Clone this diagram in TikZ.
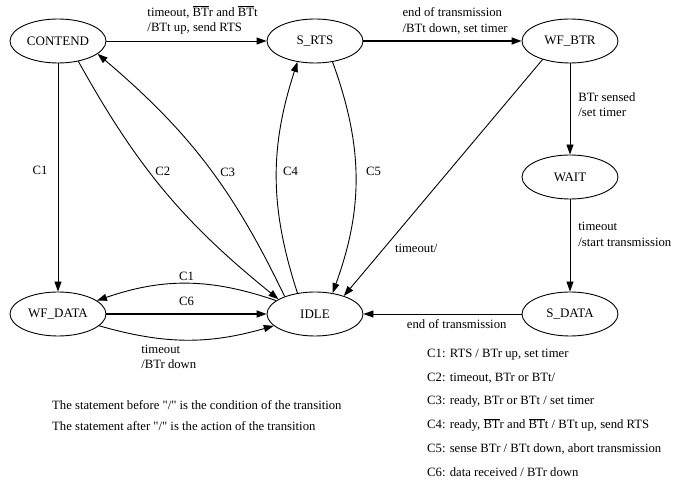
\documentclass[tikz,border=0pt]{standalone}
\usepackage{fontspec}
\setmainfont{Liberation Serif}
\usetikzlibrary{arrows.meta, positioning, shapes.geometric}
\tikzset{%
  state/.style={%
    ellipse,%
    draw=black,%
    line width=0.9pt,%
    minimum width=96pt,%
    minimum height=44pt,%
    inner sep=0pt,%
    font={\fontsize{13}{15}\selectfont},%
  },
  trans/.style={%
    color=black,%
    line width=0.9pt,%
    line join=round,%
  },
  arrow/.style={-{Triangle[length=10pt, width=7pt]}},
  annotate/.style={%
    font={\fontsize{12.7}{15.5}\selectfont},%
    align=left,%
    inner sep=2pt,%
  },
  legend/.style={%
    font={\fontsize{12.7}{14}\selectfont},%
    anchor=west,%
    inner sep=0pt,%
  },
}
\newcommand{\nBT}{$\overline{\mbox{BT}}$}

\begin{document}
\begin{tikzpicture}[x=1pt, y=1pt, on grid]

    \useasboundingbox (0,0) rectangle (673,485);

    \node [state] (CONTEND) at (58,444) {CONTEND};
    \node [state, right = 257pt of CONTEND] (S_RTS) {S\_RTS};
    \node [state, right = 255pt of S_RTS] (WF_BTR) {WF\_BTR};
    \node [state, below = 136pt of WF_BTR] (WAIT) {WAIT};
    \node [state, below = 137pt of WAIT] (S_DATA) {S\_DATA};
    \node [state, left = 255pt of S_DATA] (IDLE) {IDLE};
    \node [state, left = 257pt of IDLE] (WF_DATA) {WF\_DATA};

    % top row
    \draw [arrow, trans]
      (CONTEND.east) -- (S_RTS.west)
      node [annotate, pos=0.6, above=4pt] {timeout, \nBT r and \nBT t\\/BTt up, send RTS};
    \draw [arrow, trans, line width=1.4pt]
      (S_RTS.east) -- (WF_BTR.west)
      node [annotate, pos=0.58, above=4pt] {end of transmission\\/BTt down, set timer};

    % right column
    \draw [arrow, trans]
      (WF_BTR.south) -- (WAIT.north)
      node [annotate, pos=0.45, anchor=west, xshift=6pt] {BTr sensed\\/set timer};
    \draw [arrow, trans]
      (WAIT.south) -- (S_DATA.north)
      node [annotate, pos=0.38, anchor=west, xshift=6pt] {timeout\\/start transmission};
    \draw [arrow, trans]
      (S_DATA.west) -- (IDLE.east)
      node [annotate, pos=0.41, below=3pt] {end of transmission};
    \draw [arrow, trans]
      (WF_BTR.214) -- (IDLE.32)
      node [annotate, pos=0.8, anchor=west, xshift=9pt] {timeout/};

    % around S_RTS and IDLE
    \draw [arrow, trans]
      (S_RTS.-50) to [out=-70, in=70]
      node [annotate, pos=0.47, anchor=west, xshift=8pt] {C5}
      (IDLE.50);
    \draw [arrow, trans]
      (IDLE.130) to [out=108, in=-108]
      node [annotate, pos=0.53, anchor=west, xshift=4pt] {C4}
      (S_RTS.230);

    % around CONTEND
    \draw [arrow, trans]
      (CONTEND.south) -- (WF_DATA.north)
      node [annotate, pos=0.47, anchor=east, xshift=-8pt] {C1};
    \draw [arrow, trans]
      (CONTEND.-45) to [bend right=11]
      node [annotate, pos=0.41, anchor=west, xshift=4pt] {C2}
      (IDLE.158);
    \draw [arrow, trans]
      (IDLE.150) to [bend right=12]
      node [annotate, pos=0.46, anchor=west, xshift=5pt] {C3}
      (CONTEND.-18);

    % bottom row
    \draw [arrow, trans]
      (IDLE) to [bend right=19]
      node [annotate, midway, above=0pt] {C1}
      (WF_DATA);
    \draw [arrow, trans, line width=1.4pt]
      (WF_DATA.east) -- (IDLE.west)
      node [annotate, midway, above=6pt] {C6};
    \draw [arrow, trans]
      (WF_DATA) to [bend right=16]
      node [annotate, pos=0.25, anchor=north west, xshift=-6pt, yshift=-6pt] {timeout\\/BTr down}
      (IDLE);

    % notes
    \node [legend] (Note1) at (52,80) {The statement before \textquotedbl/\textquotedbl{} is the condition of the transition};
    \node [legend] (Note2) at (52,59) {The statement after \textquotedbl/\textquotedbl{} is the action of the transition};

    \node [legend] (Leg1) at (427,130) {C1: RTS / BTr up, set timer};
    \node [legend] (Leg2) at (427,106.6) {C2: timeout, BTr or BTt/};
    \node [legend] (Leg3) at (427,83.2) {C3: ready, BTr or BTt / set timer};
    \node [legend] (Leg4) at (427,59.8) {C4: ready, \nBT r and \nBT t / BTt up, send RTS};
    \node [legend] (Leg5) at (427,36.4) {C5: sense BTr / BTt down, abort transmission};
    \node [legend] (Leg6) at (427,13) {C6: data received / BTr down};

  \end{tikzpicture}
\end{document}
